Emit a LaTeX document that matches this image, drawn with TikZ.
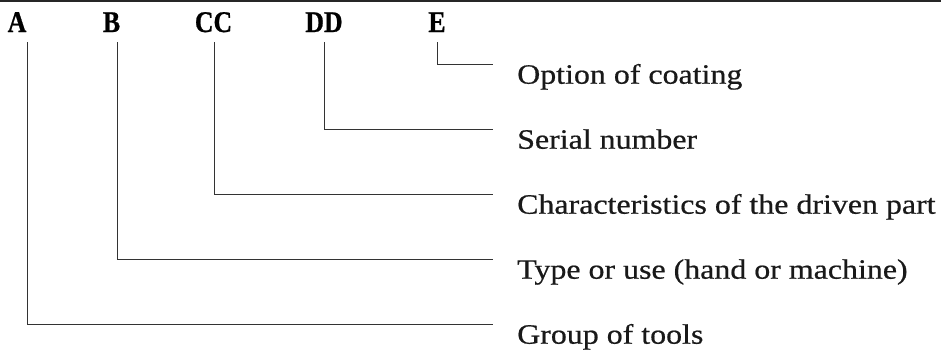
\documentclass[tikz,border=0pt]{standalone}
\usepackage{fontspec}
\setmainfont[FakeStretch=1.14,FakeBold=0.6]{Liberation Serif}
\newfontfamily\codefont[FakeStretch=0.86,FakeBold=0.8]{Liberation Serif}

\begin{document}
\begin{tikzpicture}[
    x=1pt,y=-1pt,
    code/.style={
      inner sep=0pt,anchor=base,text depth=0pt,
      font=\codefont\fontsize{30}{36}\selectfont\bfseries
    },
    label/.style={
      inner sep=0pt,anchor=base west,text height=18.7pt,text depth=0pt,
      font=\fontsize{28}{34}\selectfont,text=black!90
    },
    leader/.style={draw=black!80,line width=0.9pt}
  ]
    \useasboundingbox (0,0) rectangle (941,351);
    \draw[line width=1.6pt,black!85] (0,1) -- (941,1);

    \node[code] (CodeA) at (17,32) {A};
    \node[code] (CodeB) at (111.5,32) {B};
    \node[code] (CodeCC) at (213.5,32) {CC};
    \node[code] (CodeDD) at (324,32) {DD};
    \node[code] (CodeE) at (437,32) {E};

    \node[label] (LabelE) at (517,83.7) {Option of coating};
    \node[label] (LabelDD) at (517,148.7) {Serial number};
    \node[label] (LabelCC) at (517,213.7) {Characteristics of the driven part};
    \node[label] (LabelB) at (517,278.7) {Type or use (hand or machine)};
    \node[label] (LabelA) at (517,343.7) {Group of tools};

    \draw[leader] ([xshift=10pt,yshift=-10pt]CodeA.south) |- ([xshift=-24pt]LabelA.north west);
    \draw[leader] ([xshift=5.5pt,yshift=-10pt]CodeB.south) |- ([xshift=-24pt]LabelB.north west);
    \draw[leader] ([xshift=0.5pt,yshift=-10pt]CodeCC.south) |- ([xshift=-24pt]LabelCC.north west);
    \draw[leader] ([yshift=-10pt]CodeDD.south) |- ([xshift=-24pt]LabelDD.north west);
    \draw[leader] ([yshift=-10pt]CodeE.south) |- ([xshift=-24pt]LabelE.north west);
  \end{tikzpicture}
\end{document}
